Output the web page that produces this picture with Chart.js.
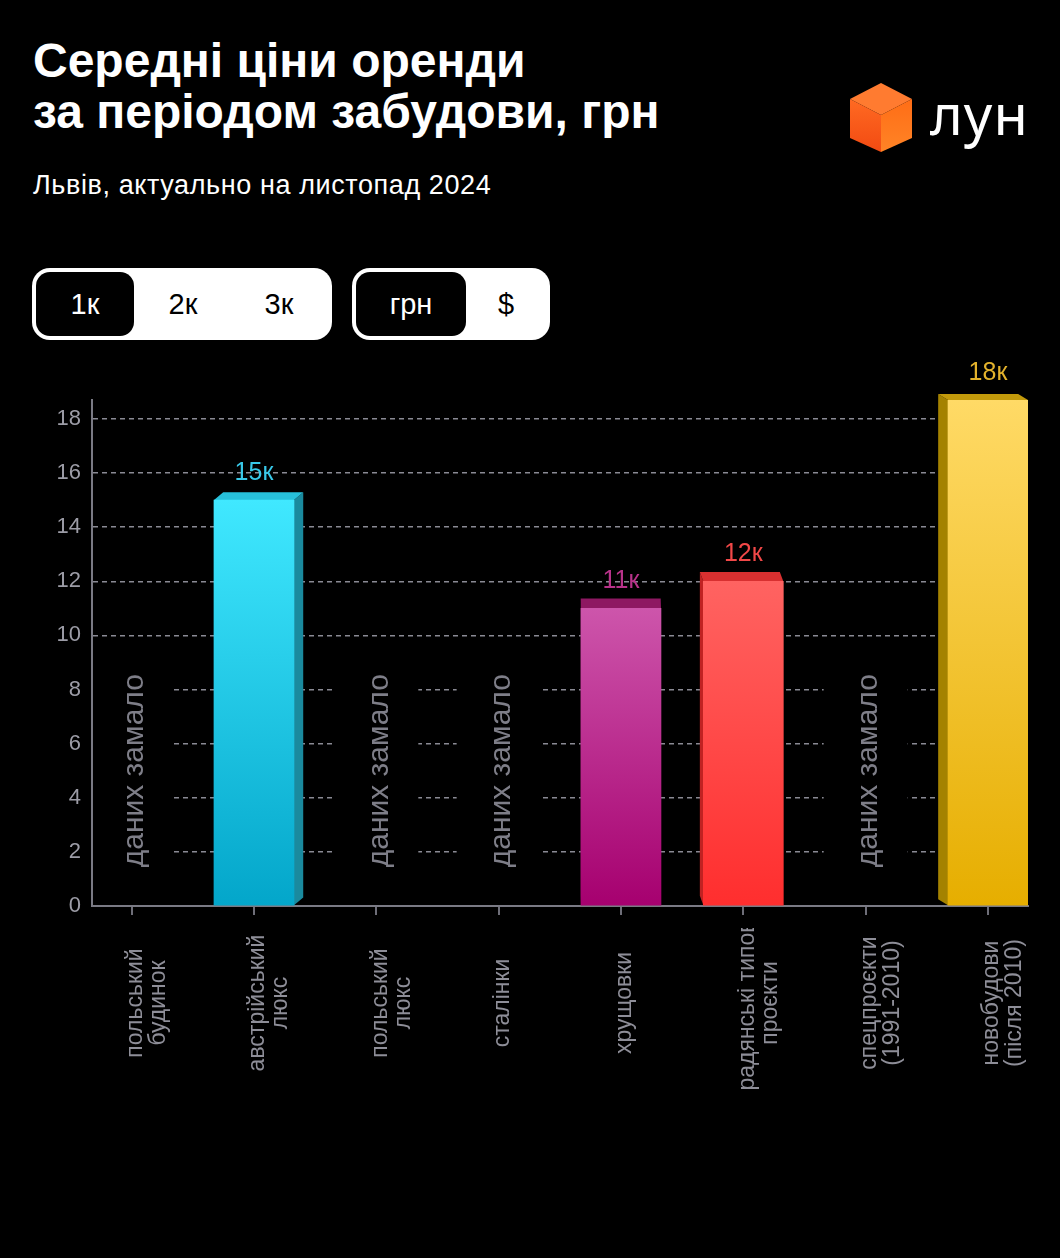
<!DOCTYPE html>
<html lang="uk">
<head>
<meta charset="utf-8">
<title>Середні ціни оренди за періодом забудови</title>
<script src="https://cdn.jsdelivr.net/npm/chart.js@4.4.1/dist/chart.umd.min.js"></script>
<style>
  html, body { margin: 0; padding: 0; background: #000; }
  body { width: 1060px; height: 1258px; position: relative; overflow: hidden;
         font-family: 'Liberation Sans', Arial, sans-serif; color: #fff; }
  .title { position: absolute; left: 33px; top: 35px; margin: 0;
           font-size: 48px; line-height: 51px; font-weight: bold; }
  .subtitle { position: absolute; left: 33px; top: 169px; font-size: 27px; line-height: 32px; letter-spacing: 0.6px; }
  .logo { position: absolute; left: 848px; top: 80px; width: 190px; height: 76px; }
  .logo svg { position: absolute; left: 0; top: 0; }
  .logo span { position: absolute; left: 82px; top: -2px; font-family: 'Noto Sans', sans-serif;
               font-weight: 400; font-size: 56px; line-height: 70px; letter-spacing: 1px; }
  .group { position: absolute; top: 268px; height: 72px; background: #fff; border-radius: 18px; }
  .group div { position: absolute; top: 4px; height: 64px; line-height: 64px; text-align: center;
               font-size: 29px; color: #000; border-radius: 14px; }
  .group div.on { background: #000; color: #fff; }
  #wrap { position: absolute; left: 0; top: 360px; width: 1060px; height: 800px; }
</style>
</head>
<body>
<h1 class="title">Середні ціни оренди<br>за періодом забудови, грн</h1>
<div class="subtitle">Львів, актуально на листопад 2024</div>

<div class="logo">
  <svg width="66" height="74" viewBox="0 0 66 74">
    <defs>
      <linearGradient id="gl" x1="0" y1="0" x2="0" y2="1">
        <stop offset="0" stop-color="#ff6a22"/><stop offset="1" stop-color="#f24a12"/>
      </linearGradient>
      <linearGradient id="gr" x1="0" y1="0" x2="0" y2="1">
        <stop offset="0" stop-color="#ff6d16"/><stop offset="1" stop-color="#ff8426"/>
      </linearGradient>
    </defs>
    <polygon points="33,3 64,19 33,35 2,19" fill="#ff7b30"/>
    <polygon points="2,19 33,35 33,72 2,58" fill="url(#gl)"/>
    <polygon points="64,19 33,35 33,72 64,58" fill="url(#gr)"/>
  </svg>
  <span>лун</span>
</div>

<div class="group" style="left:32px;width:300px">
  <div class="on" style="left:4px;width:98px">1к</div>
  <div style="left:102px;width:98px">2к</div>
  <div style="left:198px;width:98px">3к</div>
</div>
<div class="group" style="left:352px;width:198px">
  <div class="on" style="left:4px;width:110px">грн</div>
  <div style="left:114px;width:80px">$</div>
</div>

<div id="wrap"><canvas id="chart" width="1060" height="800"></canvas></div>

<script>
// categories (x axis), one array of lines per label
const categories = [
  ['польський', 'будинок'],
  ['австрійський', 'люкс'],
  ['польський', 'люкс'],
  ['сталінки'],
  ['хрущовки'],
  ['радянські типові', 'проєкти'],
  ['спецпроєкти', '(1991-2010)'],
  ['новобудови', '(після 2010)']
];
// average rent, thousands UAH (null = not enough data)
const rentK = [null, 15, null, null, 11, 12, null, 18.7];
const valueLabels = [null, '15к', null, null, '11к', '12к', null, '18к'];
const yTicks = [0, 2, 4, 6, 8, 10, 12, 14, 16, 18];
const noDataText = 'даних замало';

// colours per bar: front top, front bottom, top face, side face, label
const palette = [
  null,
  ['#40e8ff', '#03a6ca', '#27c0da', '#1a8a9e', '#38c8e8'],
  null,
  null,
  ['#cd55ab', '#a6006f', '#8e1862', '#7a1255', '#b8338a'],
  ['#ff6361', '#ff2e2e', '#d83030', '#c02222', '#f24848'],
  null,
  ['#ffda66', '#e6ae00', '#c39a0b', '#a48200', '#e3b22c']
];

const FONT = "'Liberation Sans', Arial, sans-serif";

function faceOffset(chart, el) {
  const area = chart.chartArea;
  const vx = area.left + 0.553 * (area.right - area.left);
  const vy = area.top - 313;
  return { dx: (vx - el.x) * 0.026, dy: -(el.y - vy) * 0.019 };
}

const bars3d = {
  id: 'bars3d',
  beforeDatasetsDraw(chart) {
    const ctx = chart.ctx;
    const area = chart.chartArea;
    const xs = chart.scales.x;
    const ys = chart.scales.y;
    // "no data" notes: black box over the grid, then rotated text
    rentK.forEach((v, i) => {
      if (v !== null) return;
      const cx = xs.getPixelForValue(i);
      const top = ys.getPixelForValue(9.1);
      const bottom = ys.getPixelForValue(0.9);
      const left = Math.max(cx - 42, area.left + 1);
      ctx.save();
      ctx.fillStyle = '#000';
      ctx.fillRect(left, top, cx + 42 - left, bottom - top);
      ctx.translate(cx + 3, ys.getPixelForValue(5));
      ctx.rotate(-Math.PI / 2);
      ctx.font = '30px ' + FONT;
      ctx.fillStyle = '#7e7e88';
      ctx.textAlign = 'center';
      ctx.textBaseline = 'middle';
      ctx.fillText(noDataText, 0, 0);
      ctx.restore();
    });
    // top and side faces of the bars
    const meta = chart.getDatasetMeta(0);
    meta.data.forEach((el, i) => {
      if (rentK[i] === null || !palette[i]) return;
      const { x, y, base, width } = el.getProps(['x', 'y', 'base', 'width'], true);
      const x1 = x - width / 2, x2 = x + width / 2;
      const { dx, dy } = faceOffset(chart, { x, y });
      const c = palette[i];
      ctx.save();
      ctx.fillStyle = c[3];
      ctx.beginPath();
      const sx = dx > 0 ? x2 : x1;
      ctx.moveTo(sx, y);
      ctx.lineTo(sx + dx, y + dy);
      ctx.lineTo(sx + dx, base + dy);
      ctx.lineTo(sx, base);
      ctx.closePath();
      ctx.fill();
      ctx.fillStyle = c[2];
      ctx.beginPath();
      ctx.moveTo(x1, y);
      ctx.lineTo(x2, y);
      ctx.lineTo(x2 + dx, y + dy);
      ctx.lineTo(x1 + dx, y + dy);
      ctx.closePath();
      ctx.fill();
      ctx.restore();
    });
  },
  afterDatasetsDraw(chart) {
    const ctx = chart.ctx;
    const xs = chart.scales.x;
    const meta = chart.getDatasetMeta(0);
    // value labels
    meta.data.forEach((el, i) => {
      if (!valueLabels[i]) return;
      ctx.save();
      ctx.font = '25px ' + FONT;
      ctx.fillStyle = palette[i][4];
      ctx.textAlign = 'center';
      ctx.textBaseline = 'middle';
      ctx.fillText(valueLabels[i], el.x, el.y - 27);
      ctx.restore();
    });
    // category labels, rotated and centred
    const cy = xs.bottom - 157;
    ctx.save();
    ctx.beginPath();
    ctx.rect(0, xs.top + 22, chart.width, chart.height);
    ctx.clip();
    ctx.font = '23px ' + FONT;
    ctx.fillStyle = '#8e8e98';
    ctx.textAlign = 'center';
    ctx.textBaseline = 'middle';
    categories.forEach((lines, i) => {
      const px = xs.getPixelForValue(i);
      lines.forEach((line, j) => {
        ctx.save();
        ctx.translate(px + 4 + j * 23, cy);
        ctx.rotate(-Math.PI / 2);
        ctx.fillText(line, 0, 0);
        ctx.restore();
      });
    });
    ctx.restore();
  }
};

function frontGradient(context) {
  const chart = context.chart;
  const i = context.dataIndex;
  const c = palette[i];
  if (!c) return '#000';
  if (!chart.chartArea) return c[1];
  const ys = chart.scales.y;
  const g = chart.ctx.createLinearGradient(0, ys.getPixelForValue(rentK[i]), 0, ys.getPixelForValue(0));
  g.addColorStop(0, c[0]);
  g.addColorStop(1, c[1]);
  return g;
}

new Chart(document.getElementById('chart'), {
  type: 'bar',
  data: {
    datasets: [{
      data: categories.map((c, i) => ({ x: i, y: rentK[i] })),
      backgroundColor: frontGradient,
      borderWidth: 0,
      barThickness: 80
    }]
  },
  options: {
    responsive: false,
    animation: false,
    layout: { padding: { top: 40, right: 32, left: 0, bottom: 0 } },
    plugins: { legend: { display: false }, tooltip: { enabled: false } },
    scales: {
      x: {
        type: 'linear',
        offset: false,
        min: -0.324,
        max: 7.327,
        afterBuildTicks: (s) => { s.ticks = categories.map((c, i) => ({ value: i })); },
        afterFit: (s) => { s.height = 254; },
        ticks: { display: false },
        grid: { offset: false, drawOnChartArea: false, drawTicks: true, tickLength: 9, color: '#6e6e78', lineWidth: 2 },
        border: { display: true, color: '#7a7a84', width: 2 }
      },
      y: {
        min: 0,
        max: 18.7,
        afterBuildTicks: (s) => { s.ticks = yTicks.map(v => ({ value: v })); },
        afterFit: (s) => { s.width = 92; },
        ticks: { color: '#9c9ca6', font: { family: FONT, size: 22 }, padding: 11 },
        grid: { color: '#8a8a94', lineWidth: 1.5, drawTicks: false },
        border: { display: true, color: '#7a7a84', width: 2, dash: [5, 4] }
      }
    }
  },
  plugins: [bars3d]
});
</script>
</body>
</html>
